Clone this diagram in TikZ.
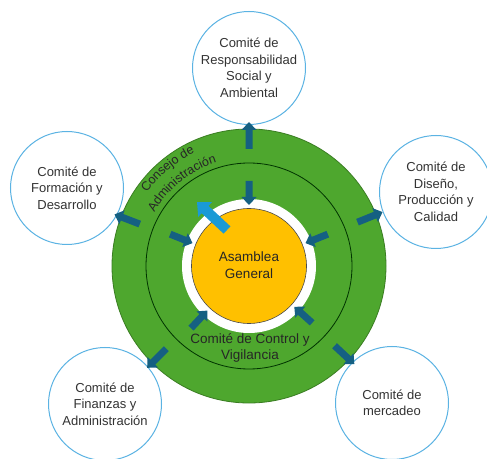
\documentclass[tikz,border=0pt]{standalone}
\usepackage{fontspec}
\setmainfont{Liberation Sans}
\usetikzlibrary{decorations.text}
\definecolor{ringgreen}{HTML}{4EA72E}
\definecolor{ringedge}{HTML}{3A7D22}
\definecolor{gold}{HTML}{FFC000}
\definecolor{arrdark}{HTML}{156082}
\definecolor{arrlight}{HTML}{1A9AD6}
\definecolor{circedge}{HTML}{5BB3E3}
\definecolor{txt}{HTML}{333333}
% #1 style, #2 start point, #3 rotation, #4 length, #5 shaft half width, #6 head half width, #7 head length
\newcommand{\blockarrow}[7]{%
  \fill[#1, shift={#2}, rotate=#3] (0,-#5) -- (#4-#7,-#5) -- (#4-#7,-#6) -- (#4,0) -- (#4-#7,#6) -- (#4-#7,#5) -- (0,#5) -- cycle;}
\tikzset{
  comite/.style={circle, draw=circedge, line width=1pt, fill=white, minimum size=113pt, inner sep=0pt,
    align=center, text=txt, font=\fontsize{13}{16.5}\selectfont},
  ringtext/.style={align=center, text=black!85, font=\fontsize{13.5}{16.5}\selectfont},
}
\begin{document}
\begin{tikzpicture}[x=1pt,y=1pt]
\useasboundingbox (0,0) rectangle (487,458);
\fill[white] (0,0) rectangle (487,458);
\coordinate (C) at (249,192);
% rings
\node[circle, fill=ringgreen, draw=ringedge, line width=0.8pt, minimum size=274pt, inner sep=0pt] (outer) at (C) {};
\node[circle, draw=black!80!green, line width=0.8pt, minimum size=206pt, inner sep=0pt] (innerline) at (C) {};
\node[circle, fill=white, minimum size=134pt, inner sep=0pt] (gap) at (C) {};
\node[circle, fill=gold, draw=black!70, line width=0.6pt, minimum size=115pt, inner sep=0pt] (asamblea) at (C) {};
\node[ringtext] (asambleatxt) at (249,193) {Asamblea\\General};
\node[ringtext] (control) at (250,110) {Comité de Control y\\Vigilancia};
\begin{scope}[shift={(C)}]
  \path[decorate, decoration={text along path, text align=center, text color=black!85,
    text={|\fontsize{12.5}{15}\selectfont|Consejo de}}]
    (170:125.5) arc[start angle=170, end angle=90, radius=125.5];
  \path[decorate, decoration={text along path, text align=center, text color=black!85,
    text={|\fontsize{12.5}{15}\selectfont|Administración}}]
    (170:108.5) arc[start angle=170, end angle=88, radius=108.5];
\end{scope}
% committees
\node[comite] (rsa) at (249,390) {Comité de\\Responsabilidad\\Social y\\Ambiental};
\node[comite] (fd) at (67,270) {Comité de\\Formación y\\Desarrollo};
\node[comite] (dpc) at (436,266) {Comité de\\Diseño,\\Producción y\\Calidad};
\node[comite] (fa) at (105,54) {Comité de\\Finanzas y\\Administración};
\node[comite] (mer) at (392,55) {Comité de\\mercadeo};
% arrows
\begin{scope}[shift={(C)}]
  \foreach \a in {90,159,22,225,317}{
    \blockarrow{arrdark}{(\a:117)}{\a}{27}{3.5}{7.5}{8}
  }
  \foreach \a in {90,158,22,227,318}{
    \blockarrow{arrdark}{(\a:85)}{\a+180}{24}{3.5}{7.5}{8}
  }
  \blockarrow{arrlight}{(-22,36)}{137}{41}{5}{10}{11}
\end{scope}
\end{tikzpicture}
\end{document}
